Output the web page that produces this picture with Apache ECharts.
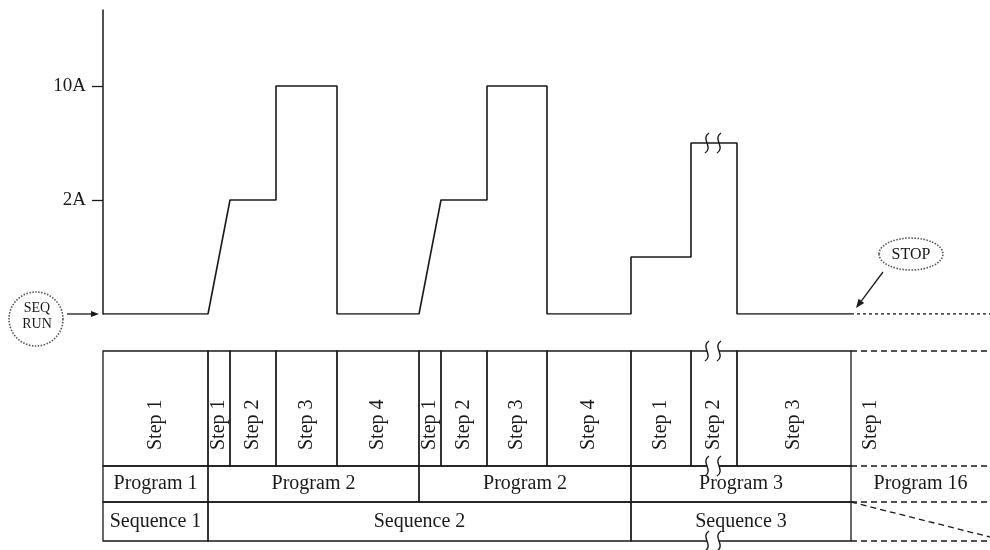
<!DOCTYPE html>
<html lang="en">
<head>
<meta charset="UTF-8">
<title>SEQ RUN timing</title>
<script src="https://cdn.jsdelivr.net/npm/echarts@6/dist/echarts.min.js"></script>
<style>
    html, body { margin: 0; padding: 0; background: #fff; }
    #main { width: 990px; height: 550px; }
</style>
</head>
<body>
<div id="main"></div>
<script>
// time runs left to right (arbitrary units, 0 = SEQ RUN)
var stepStart = [0, 105, 127, 173, 234, 316, 338, 384, 444, 528, 588, 634];
var stepEnd   = [105, 127, 173, 234, 316, 338, 384, 444, 528, 588, 634, 748];
var stepNames = ['Step 1', 'Step 1', 'Step 2', 'Step 3', 'Step 4', 'Step 1', 'Step 2', 'Step 3', 'Step 4', 'Step 1', 'Step 2', 'Step 3'];
// current level at start / end of each step (0 = off, 1 = 2A, 2 = 10A)
var levelFrom = [0, 0, 1, 2, 0, 0, 1, 2, 0, 0.5, 1.5, 0];
var levelTo   = [0, 1, 1, 2, 0, 1, 1, 2, 0, 0.5, 1.5, 0];

var programNames = ['Program 1', 'Program 2', 'Program 2', 'Program 3'];
var programEdges = [0, 105, 316, 528, 748];
var sequenceNames = ['Sequence 1', 'Sequence 2', 'Sequence 3'];
var sequenceEdges = [0, 105, 528, 748];

var yTickValues = [1, 2];
var yTickLabels = ['2A', '10A'];

var seqRunAt = 0;
var stopAt = 748;
var tEnd = 887;
var nextStep = 'Step 1';
var nextProgram = 'Program 16';
var breakAt = [604, 616];     // time cut out of Program 3 / Step 2

// table rows: steps, programs, sequences
var rowEdges = [0, 115, 151, 190];
var stepTextBase = 99;
var dashedRules = [[748, 0, 887, 0], [748, 115, 887, 115], [748, 151, 887, 151], [748, 151, 887, 186], [748, 190, 887, 190]];
var tableBreakRows = [0, 115, 190];

var ink = '#1a1a1a';
var serif = '"Liberation Serif", "DejaVu Serif", serif';

var wave = [];
for (var i = 0; i < stepStart.length; i++) {
    wave.push([stepStart[i], levelFrom[i]]);
    wave.push([stepEnd[i], levelTo[i]]);
}

var cells = [];
stepNames.forEach(function (n, i) { cells.push([stepStart[i], stepEnd[i], 0, 1, n]); });
programNames.forEach(function (n, i) { cells.push([programEdges[i], programEdges[i + 1], 1, 1, n]); });
sequenceNames.forEach(function (n, i) { cells.push([sequenceEdges[i], sequenceEdges[i + 1], 2, 1, n]); });
cells.push([stopAt, 787, 0, 0, nextStep]);
cells.push([stopAt, tEnd, 1, 0, nextProgram]);

function arrowHead(tip, from, len, half) {
    var dx = tip[0] - from[0], dy = tip[1] - from[1];
    var d = Math.sqrt(dx * dx + dy * dy);
    var ux = dx / d, uy = dy / d;
    var bx = tip[0] - ux * len, by = tip[1] - uy * len;
    return [tip, [bx - uy * half, by + ux * half], [bx + uy * half, by - ux * half]];
}

function renderBreak(params, api) {
    var a = api.coord([api.value(0), api.value(2)]);
    var b = api.coord([api.value(1), api.value(2)]);
    var children = [{
        type: 'rect',
        shape: {x: a[0], y: a[1] - 3, width: b[0] - a[0], height: 6},
        style: {fill: '#fff'}
    }];
    [a, b].forEach(function (p) {
        children.push({
            type: 'bezierCurve',
            shape: {
                x1: p[0] + 2, y1: p[1] - 10,
                cpx1: p[0] - 7, cpy1: p[1] - 4,
                cpx2: p[0] + 7, cpy2: p[1] + 4,
                x2: p[0] - 2, y2: p[1] + 10
            },
            style: {fill: 'none', stroke: ink, lineWidth: 1.4}
        });
    });
    return {type: 'group', children: children};
}

function renderCell(params, api) {
    var c = cells[params.dataIndex];
    var r = c[2];
    var p0 = api.coord([c[0], rowEdges[r]]);
    var p1 = api.coord([c[1], rowEdges[r + 1]]);
    var children = [];
    if (c[3]) {
        children.push({
            type: 'rect',
            shape: {x: p0[0], y: p0[1], width: p1[0] - p0[0], height: p1[1] - p0[1]},
            style: {fill: 'none', stroke: ink, lineWidth: 1.3}
        });
    }
    var cx = (p0[0] + p1[0]) / 2;
    if (r === 0) {
        children.push({
            type: 'text', x: cx, y: api.coord([0, stepTextBase])[1], rotation: Math.PI / 2,
            style: {text: c[4], font: '20px ' + serif, fill: ink, align: 'left', verticalAlign: 'middle'}
        });
    } else {
        children.push({
            type: 'text', x: cx, y: (p0[1] + p1[1]) / 2,
            style: {text: c[4], font: '20px ' + serif, fill: ink, align: 'center', verticalAlign: 'middle'}
        });
    }
    return {type: 'group', children: children};
}

function renderDashed(params, api) {
    var a = api.coord([api.value(0), api.value(1)]);
    var b = api.coord([api.value(2), api.value(3)]);
    return {
        type: 'line',
        shape: {x1: a[0], y1: a[1], x2: b[0], y2: b[1]},
        style: {stroke: ink, lineWidth: 1.3, lineDash: [6, 4]}
    };
}

// SEQ RUN bubble left of the axis, arrow into the start point
function renderSeqRun(params, api) {
    var p = api.coord([api.value(0), api.value(1)]);
    var from = [p[0] - 36, p[1]], tip = [p[0] - 4, p[1]];
    return {
        type: 'group',
        children: [
            {type: 'circle', shape: {cx: p[0] - 67, cy: p[1] + 5, r: 27},
                style: {fill: '#fff', stroke: '#555', lineWidth: 1.6, lineDash: [1.5, 1.5]}},
            {type: 'text', x: p[0] - 66, y: p[1] - 6,
                style: {text: 'SEQ', font: '14px ' + serif, fill: ink, align: 'center', verticalAlign: 'middle'}},
            {type: 'text', x: p[0] - 66, y: p[1] + 10,
                style: {text: 'RUN', font: '14px ' + serif, fill: ink, align: 'center', verticalAlign: 'middle'}},
            {type: 'line', shape: {x1: from[0], y1: from[1], x2: tip[0] - 6, y2: tip[1]},
                style: {stroke: ink, lineWidth: 1.3}},
            {type: 'polygon', shape: {points: arrowHead(tip, from, 8, 3)}, style: {fill: ink}}
        ]
    };
}

// STOP bubble above the end of the last program
function renderStop(params, api) {
    var p = api.coord([api.value(0), api.value(1)]);
    var from = [p[0] + 32, p[1] - 42], tip = [p[0] + 5, p[1] - 6];
    var head = arrowHead(tip, from, 9, 3.5);
    return {
        type: 'group',
        children: [
            {type: 'ellipse', shape: {cx: p[0] + 60, cy: p[1] - 60, rx: 32, ry: 16},
                style: {fill: '#fff', stroke: '#555', lineWidth: 1.6, lineDash: [1.5, 1.5]}},
            {type: 'text', x: p[0] + 60, y: p[1] - 59,
                style: {text: 'STOP', font: '16px ' + serif, fill: ink, align: 'center', verticalAlign: 'middle'}},
            {type: 'line', shape: {x1: from[0], y1: from[1], x2: (head[1][0] + head[2][0]) / 2, y2: (head[1][1] + head[2][1]) / 2},
                style: {stroke: ink, lineWidth: 1.3}},
            {type: 'polygon', shape: {points: head}, style: {fill: ink}}
        ]
    };
}

var myChart = echarts.init(document.getElementById('main'));
var option = {
    animation: false,
    backgroundColor: '#fff',
    grid: [
        {left: 103, width: 887, top: 10, height: 304, outerBoundsMode: 'none'},
        {left: 103, width: 887, top: 351, height: 190, outerBoundsMode: 'none'}
    ],
    xAxis: [
        {gridIndex: 0, type: 'value', min: 0, max: tEnd, show: false},
        {gridIndex: 1, type: 'value', min: 0, max: tEnd, show: false}
    ],
    yAxis: [{
        gridIndex: 0,
        type: 'value',
        min: 0,
        max: 304 / 114,
        axisLine: {show: true, onZero: false, lineStyle: {color: ink, width: 1.5}},
        axisTick: {show: true, length: 11, customValues: yTickValues, lineStyle: {color: ink, width: 1.3}},
        axisLabel: {
            customValues: yTickValues,
            margin: 17,
            color: ink,
            fontFamily: serif,
            fontSize: 19,
            formatter: function (v) {
                var k = yTickValues.indexOf(v);
                return k >= 0 ? yTickLabels[k] : '';
            }
        },
        splitLine: {show: false}
    }, {
        gridIndex: 1, type: 'value', min: 0, max: rowEdges[3], inverse: true, show: false
    }],
    series: [
        {
            type: 'line', xAxisIndex: 0, yAxisIndex: 0, data: wave, symbol: 'none',
            lineStyle: {color: ink, width: 1.6}
        },
        {
            type: 'line', xAxisIndex: 0, yAxisIndex: 0, data: [[stopAt, 0], [tEnd, 0]], symbol: 'none',
            lineStyle: {color: ink, width: 1.3, type: [3, 3]}
        },
        {
            type: 'custom', xAxisIndex: 0, yAxisIndex: 0, clip: false,
            data: [[breakAt[0], breakAt[1], levelTo[10]]],
            encode: {x: [0, 1], y: 2},
            renderItem: renderBreak
        },
        {
            type: 'custom', xAxisIndex: 0, yAxisIndex: 0, clip: false,
            data: [[seqRunAt, 0]], renderItem: renderSeqRun
        },
        {
            type: 'custom', xAxisIndex: 0, yAxisIndex: 0, clip: false,
            data: [[stopAt, 0]], renderItem: renderStop
        },
        {
            type: 'custom', xAxisIndex: 1, yAxisIndex: 1, clip: false,
            data: cells.map(function (c) { return [c[0], c[1], rowEdges[c[2]], rowEdges[c[2] + 1]]; }),
            encode: {x: [0, 1], y: [2, 3]},
            renderItem: renderCell
        },
        {
            type: 'custom', xAxisIndex: 1, yAxisIndex: 1, clip: false,
            data: dashedRules, encode: {x: [0, 2], y: [1, 3]},
            renderItem: renderDashed
        },
        {
            type: 'custom', xAxisIndex: 1, yAxisIndex: 1, clip: false,
            data: tableBreakRows.map(function (r) { return [breakAt[0], breakAt[1], r]; }),
            encode: {x: [0, 1], y: 2},
            renderItem: renderBreak
        }
    ]
};
myChart.setOption(option);
window.addEventListener('resize', function () {
    myChart.resize();
});
</script>
</body>
</html>
